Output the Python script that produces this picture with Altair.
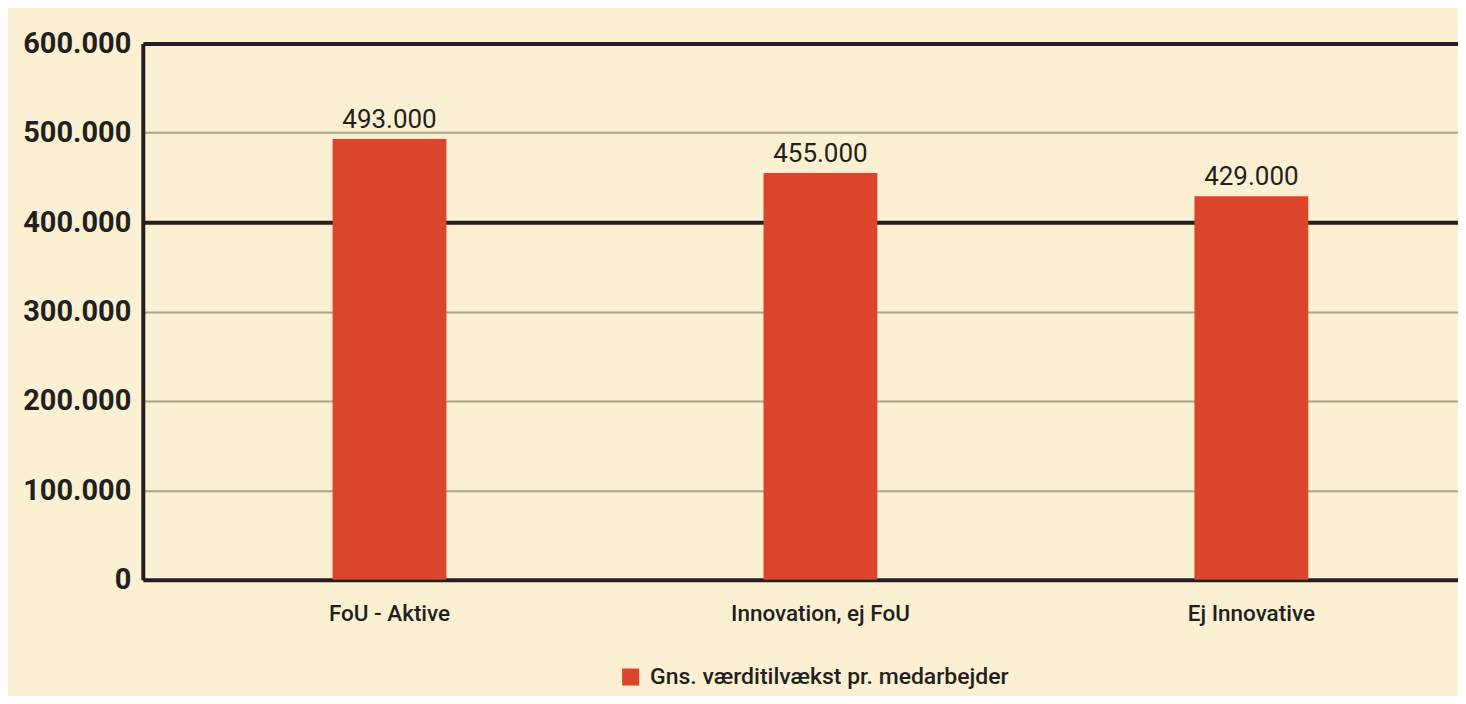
import altair as alt
import pandas as pd

categories = ["FoU - Aktive", "Innovation, ej FoU", "Ej Innovative"]
values = [493000, 455000, 429000]
series_name = "Gns. værditilvækst pr. medarbejder"
y_ticks = [0, 100000, 200000, 300000, 400000, 500000, 600000]

df = pd.DataFrame({"category": categories, "value": values, "series": [series_name] * len(categories)})

FONT = "Roboto, sans-serif"
INK = "#231F20"
BAR = "#DB452B"
BG = "#FCF0D2"
GRID = "#A8A48E"

strong = "datum.value === 400000 || datum.value === 600000"

x = alt.X(
    "category:N", sort=categories, title=None,
    scale=alt.Scale(paddingInner=0.736, paddingOuter=0.394, align=0.559),
    axis=alt.Axis(labelAngle=0, ticks=False, domain=True, domainColor=INK, domainWidth=4,
                  labelFont=FONT, labelFontSize=22.5, labelFontWeight=500, labelColor=INK,
                  labelPadding=23, labelLimit=600, grid=False),
)
y = alt.Y(
    "value:Q", title=None,
    scale=alt.Scale(domain=[0, 600000], nice=False),
    axis=alt.Axis(values=y_ticks, ticks=False, domain=True, domainColor=INK, domainWidth=4,
                  labelFont=FONT, labelFontSize=29, labelFontWeight="bold", labelColor=INK,
                  labelPadding=12, labelLimit=300,
                  labelExpr="replace(format(datum.value, ','), ',', '.')",
                  grid=True,
                  gridColor={"condition": {"test": strong, "value": INK}, "value": GRID},
                  gridWidth={"condition": {"test": strong, "value": 4}, "value": 2},
                  gridOpacity=1),
)

base = alt.Chart(df)

bars = base.mark_bar(size=114).encode(
    x=x, y=y,
    color=alt.Color("series:N", scale=alt.Scale(domain=[series_name], range=[BAR]),
                    legend=alt.Legend(title=None, orient="none", legendX=477, legendY=623,
                                      symbolType="square", symbolSize=290, symbolStrokeWidth=0,
                                      labelFont=FONT, labelFontSize=23, labelFontWeight=500,
                                      labelColor=INK, labelOffset=8, labelLimit=800)),
)

labels = base.transform_calculate(
    lbl="replace(format(datum.value, ','), ',', '.')"
).mark_text(baseline="bottom", dy=-6, fontSize=26, font=FONT, color=INK).encode(
    x=alt.X("category:N", sort=categories), y="value:Q", text="lbl:N"
)

chart = alt.layer(bars, labels).properties(
    width=1317, height=537,
    autosize=alt.AutoSizeParams(type="none"),
    padding={"left": 135, "top": 35, "right": 0, "bottom": 116},
    background=BG,
).configure_view(stroke=None)

chart.save("out.html", embed_options={"renderer": "svg", "actions": False})
